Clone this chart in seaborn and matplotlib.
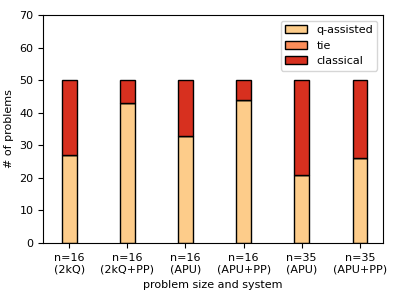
import matplotlib
matplotlib.use("Agg")
import matplotlib.pyplot as plt
import seaborn as sns
import numpy as np
import pandas as pd

categories = ["n=16\n(2kQ)", "n=16\n(2kQ+PP)", "n=16\n(APU)", "n=16\n(APU+PP)", "n=35\n(APU)", "n=35\n(APU+PP)"]
q_assisted = [27, 43, 33, 44, 21, 26]
tie = [0, 0, 0, 0, 0, 0]
classical = [23, 7, 17, 6, 29, 24]

sns.set_style("ticks")
plt.rcParams['font.family'] = ['DejaVu Sans']
plt.rcParams['text.color'] = 'black'
plt.rcParams['axes.labelcolor'] = 'black'
plt.rcParams['xtick.color'] = 'black'
plt.rcParams['ytick.color'] = 'black'

fig = plt.figure(figsize=(3.99, 3.0), dpi=100)
ax = fig.add_axes([0.108, 0.19, 0.852, 0.76])

df = pd.DataFrame({"cat": categories, "q": q_assisted, "tie": tie, "cl": classical})
bottom_tie = np.array(q_assisted)
bottom_cl = bottom_tie + np.array(tie)

sns.barplot(data=df, x="cat", y="q", color="#fdcc8a", edgecolor="black", linewidth=1,
            width=0.25, ax=ax, label="q-assisted", saturation=1)
sns.barplot(data=df, x="cat", y="tie", color="#fc8d59", edgecolor="black", linewidth=1,
            width=0.25, ax=ax, label="tie", bottom=bottom_tie, saturation=1)
sns.barplot(data=df, x="cat", y="cl", color="#d7301f", edgecolor="black", linewidth=1,
            width=0.25, ax=ax, label="classical", bottom=bottom_cl, saturation=1)

ax.set_xlim(-0.45, 5.4)
ax.set_ylim(0, 70)
ax.set_yticks(range(0, 71, 10))
ax.set_xlabel("problem size and system", fontsize=8)
ax.set_ylabel("# of problems", fontsize=8)
ax.tick_params(labelsize=8)
for s in ax.spines.values():
    s.set_visible(True)
    s.set_color("black")
ax.legend(loc="upper right", fontsize=8)
fig.savefig("out.png", dpi=100)
